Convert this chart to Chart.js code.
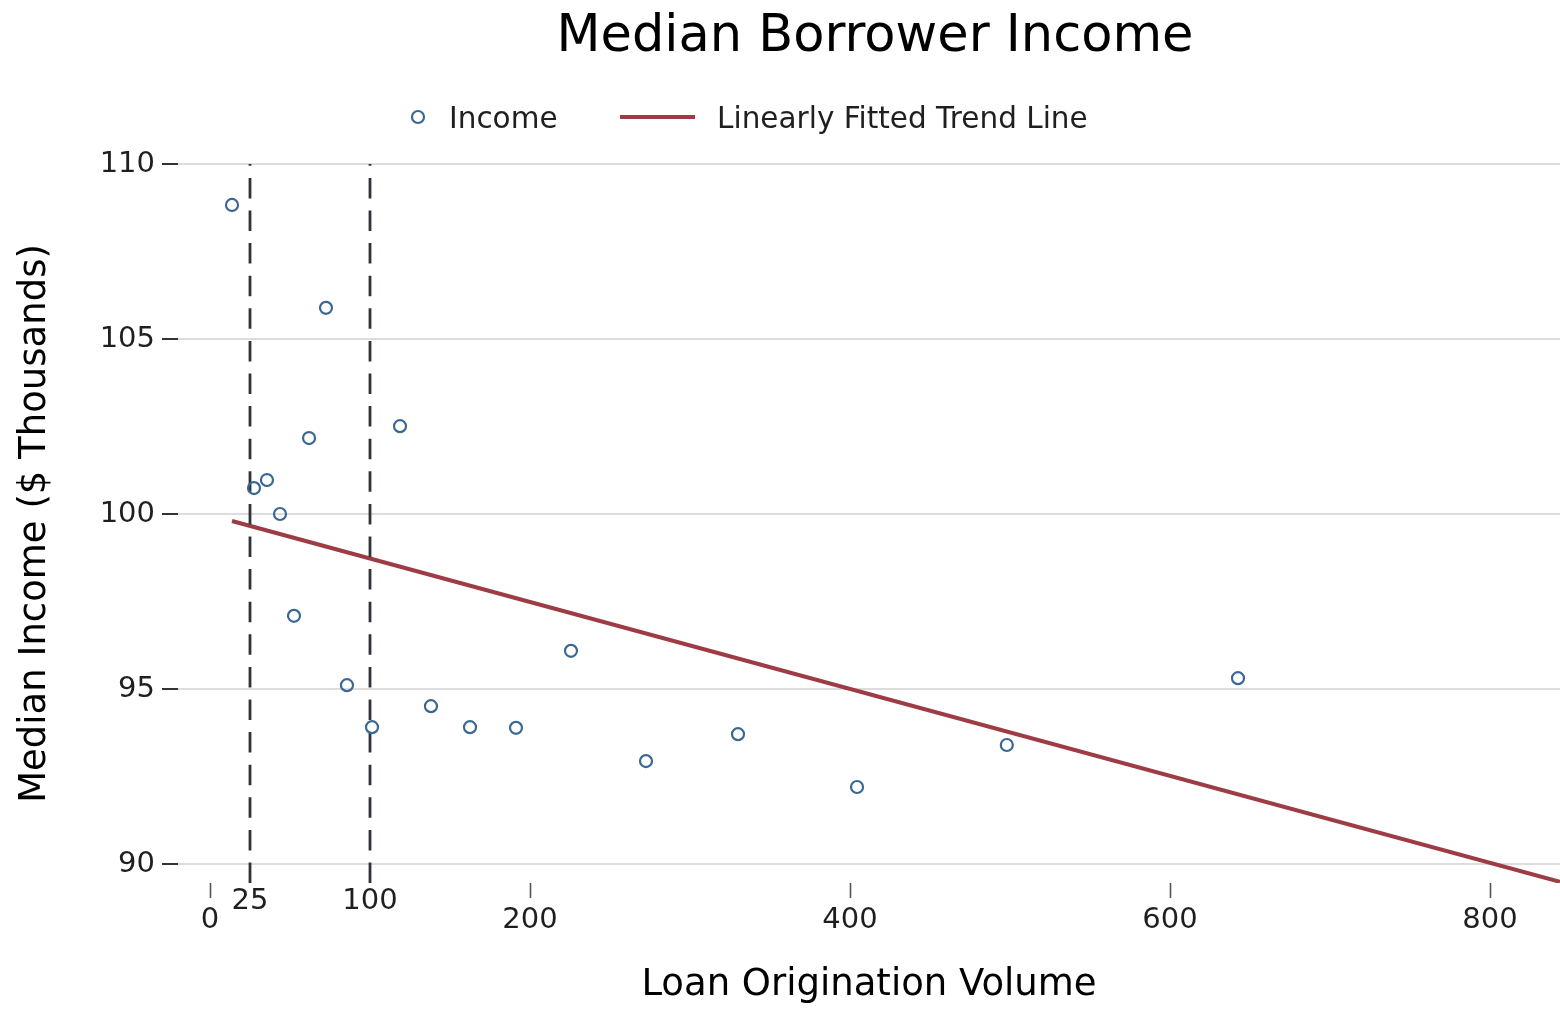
<!DOCTYPE html>
<html>
<head>
<meta charset="utf-8">
<title>Median Borrower Income</title>
<script src="https://cdn.jsdelivr.net/npm/chart.js@4/dist/chart.umd.min.js"></script>
<style>
  html, body { margin: 0; padding: 0; background: #ffffff; }
  canvas { display: block; }
</style>
</head>
<body>
<canvas id="chart" width="1560" height="1010"></canvas>
<script>
// Loan origination volume and median borrower income ($ thousands)
const volume = [13.75, 27.5, 35.6, 43.75, 52.5, 61.9, 72.5, 85.6, 101.25, 118.75,
                138.1, 162.5, 191.25, 225.6, 272.5, 330, 404.4, 498, 642.5];
const income = [108.83, 100.74, 100.97, 100.0, 97.09, 102.17, 105.89, 95.11, 93.91, 102.51,
                94.51, 93.91, 93.89, 96.09, 92.94, 93.71, 92.2, 93.4, 95.31];

// End points of the fitted trend line
const trendVolume = [13.75, 843.75];
const trendIncome = [99.8, 89.49];

// Axis ticks and the two reference volumes marked by dashed lines
const xTicks = [0, 200, 400, 600, 800];
const yTicks = [90, 95, 100, 105, 110];
const referenceVolumes = [25, 100];

const FONT = "'DejaVu Sans', 'Liberation Sans', sans-serif";
const TEXT = '#1f1f1f';
const POINT_COLOR = '#3a6794';
const TREND_COLOR = '#9e3c45';

const incomePoints = volume.map((v, i) => ({ x: v, y: income[i] }));
const trendPoints = trendVolume.map((v, i) => ({ x: v, y: trendIncome[i] }));

// Dashed vertical lines at the reference volumes, drawn above the trend line
// but beneath the income markers.
const referenceLines = {
  id: 'referenceLines',
  beforeDatasetDraw(chart, args) {
    if (args.index !== 0) return;
    const { ctx, chartArea, scales } = chart;
    ctx.save();
    ctx.strokeStyle = '#30343a';
    ctx.lineWidth = 2.8;
    ctx.lineCap = 'butt';
    ctx.setLineDash([20.5, 12.1]);
    referenceVolumes.forEach(v => {
      const px = Math.round(scales.x.getPixelForValue(v));
      ctx.beginPath();
      ctx.moveTo(px, chartArea.bottom);
      ctx.lineTo(px, chartArea.top);
      ctx.stroke();
    });
    ctx.restore();
  },
  afterDraw(chart) {
    const { ctx, scales } = chart;
    ctx.save();
    ctx.font = '29px ' + FONT;
    ctx.fillStyle = TEXT;
    ctx.textAlign = 'center';
    ctx.textBaseline = 'middle';
    referenceVolumes.forEach(v => {
      ctx.fillText(String(v), scales.x.getPixelForValue(v), 901);
    });
    ctx.restore();
  }
};

// Title and legend placed above the plotting area
const header = {
  id: 'header',
  afterDraw(chart) {
    const { ctx, chartArea } = chart;
    const ds = chart.data.datasets;
    ctx.save();
    ctx.fillStyle = '#000000';
    ctx.font = '51px ' + FONT;
    ctx.textAlign = 'center';
    ctx.textBaseline = 'alphabetic';
    ctx.fillText('Median Borrower Income', (chartArea.left + chartArea.right) / 2 + 6, 51);

    const ly = 117;
    // scatter marker
    ctx.beginPath();
    ctx.arc(418, ly, 6, 0, Math.PI * 2);
    ctx.lineWidth = 2.2;
    ctx.strokeStyle = POINT_COLOR;
    ctx.stroke();
    // trend line sample
    ctx.beginPath();
    ctx.moveTo(620, ly);
    ctx.lineTo(695, ly);
    ctx.lineWidth = 4;
    ctx.strokeStyle = TREND_COLOR;
    ctx.stroke();

    ctx.font = '29.5px ' + FONT;
    ctx.fillStyle = TEXT;
    ctx.textAlign = 'left';
    ctx.textBaseline = 'middle';
    ctx.fillText(ds[0].label, 449, ly + 3);
    ctx.fillText(ds[1].label, 717, ly + 3);
    ctx.restore();
  }
};

new Chart(document.getElementById('chart'), {
  type: 'scatter',
  data: {
    datasets: [
      {
        label: 'Income',
        data: incomePoints,
        pointStyle: 'circle',
        pointRadius: 6,
        pointBorderWidth: 2.2,
        pointBackgroundColor: 'rgba(0,0,0,0)',
        pointBorderColor: POINT_COLOR
      },
      {
        type: 'line',
        label: 'Linearly Fitted Trend Line',
        data: trendPoints,
        borderColor: TREND_COLOR,
        borderWidth: 4,
        pointRadius: 0,
        fill: false,
        tension: 0
      }
    ]
  },
  options: {
    responsive: false,
    animation: false,
    devicePixelRatio: 1,
    events: [],
    layout: { autoPadding: false, padding: { top: 164, left: 0, right: 0, bottom: 0 } },
    plugins: {
      legend: { display: false },
      title: { display: false },
      tooltip: { enabled: false }
    },
    scales: {
      x: {
        type: 'linear',
        min: -20,
        max: 843.75,
        afterBuildTicks(scale) { scale.ticks = xTicks.map(v => ({ value: v })); },
        afterFit(scale) {
          scale.height = 127;
          scale.paddingLeft = 0;
          scale.paddingRight = 0;
        },
        border: { display: false },
        grid: {
          drawOnChartArea: false,
          drawTicks: true,
          tickLength: 15,
          tickColor: '#555555',
          tickWidth: 1.6
        },
        ticks: {
          font: { family: FONT, size: 29 },
          color: TEXT,
          padding: 5,
          maxRotation: 0,
          autoSkip: false
        },
        title: {
          display: true,
          text: 'Loan Origination Volume',
          font: { family: FONT, size: 37 },
          color: '#000000',
          padding: { top: 0, bottom: 2 }
        }
      },
      y: {
        type: 'linear',
        min: 110 - (883 - 164) / 35,
        max: 110,
        afterBuildTicks(scale) { scale.ticks = yTicks.map(v => ({ value: v })); },
        afterFit(scale) {
          scale.width = 178;
          scale.paddingTop = 0;
          scale.paddingBottom = 0;
        },
        border: { display: false },
        grid: {
          color: '#dddddd',
          lineWidth: 2,
          drawTicks: true,
          tickLength: 16,
          tickColor: '#333333',
          tickWidth: 2
        },
        ticks: {
          font: { family: FONT, size: 29 },
          color: TEXT,
          padding: 7
        },
        title: {
          display: true,
          text: 'Median Income ($ Thousands)',
          font: { family: FONT, size: 37 },
          color: '#000000',
          padding: { top: 13, bottom: 0 }
        }
      }
    }
  },
  plugins: [referenceLines, header]
});
</script>
</body>
</html>
